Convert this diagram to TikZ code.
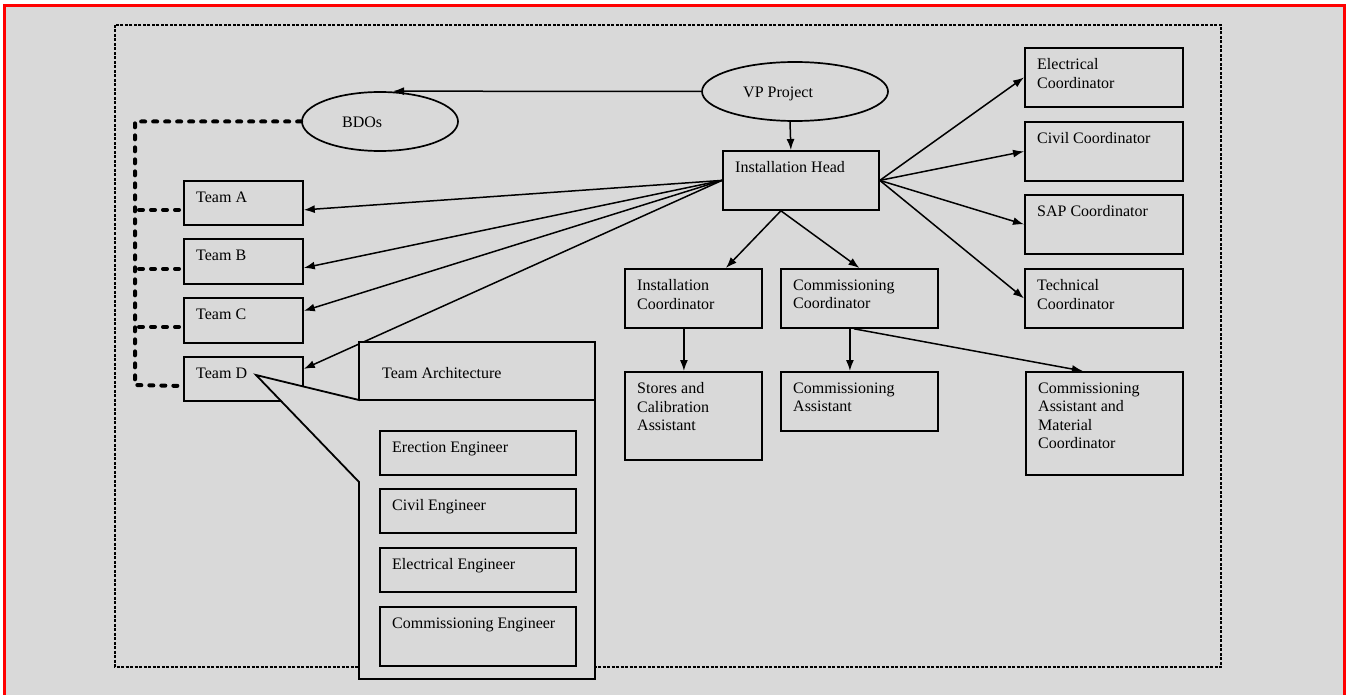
\documentclass[tikz,border=0pt]{standalone}
\usepackage{fontspec}
\setmainfont{Liberation Serif}
\usetikzlibrary{shapes.geometric,arrows.meta,calc}
\definecolor{bg}{HTML}{D9D9D9}
\definecolor{frame}{HTML}{FF0000}
\begin{document}
\begin{tikzpicture}[x=1pt,y=-1pt,
  box/.style={draw=black, line width=1.8pt, fill=bg, rectangle, inner sep=0pt, anchor=north west},
  oval/.style={draw=black, line width=1.7pt, fill=bg, ellipse, inner sep=0pt},
  txt/.style={anchor=north west, inner sep=0pt, align=left, font=\fontsize{16}{18.5}\selectfont},
  arr/.style={line width=1.5pt, -{Latex[length=11pt,width=8pt]}},
  link/.style={line width=4pt, dash pattern=on 4pt off 8pt, line cap=round},
]
\useasboundingbox (0,0) rectangle (1352,695);
\fill[white] (0,0) rectangle (1352,695);
\draw[frame, line width=3pt, fill=bg] (4,6) rectangle (1344,700);
\draw[line width=1.1pt, dash pattern=on 3pt off 1.5pt] (115,25) rectangle (1221,667);

% ellipses
\node[oval, minimum width=186pt, minimum height=59pt] (vp) at (795,91.5) {};
\node[txt] (vpt) at (743,87) {VP Project};
\node[oval, minimum width=156pt, minimum height=59pt] (bdo) at (380,121.5) {};
\node[txt] (bdot) at (342,117) {BDOs};

% head
\node[box, minimum width=156pt, minimum height=59pt] (ih) at (722,150) {};
\node[txt] (iht) at (735,161.5) {Installation Head};

% teams
\node[box, minimum width=119pt, minimum height=44pt] (tA) at (183,180) {};
\node[txt] (tAt) at (196,191.5) {Team A};
\node[box, minimum width=119pt, minimum height=45pt] (tB) at (183,238) {};
\node[txt] (tBt) at (196,249.5) {Team B};
\node[box, minimum width=119pt, minimum height=45pt] (tC) at (183,297) {};
\node[txt] (tCt) at (196,308.5) {Team C};
\node[box, minimum width=119pt, minimum height=44pt] (tD) at (183,356) {};
\node[txt] (tDt) at (196,367.5) {Team D};

% right coordinators
\node[box, minimum width=158pt, minimum height=59pt] (ec) at (1024,47) {};
\node[txt] (ect) at (1037,58.5) {Electrical\\Coordinator};
\node[box, minimum width=158pt, minimum height=59pt] (cc) at (1024,121) {};
\node[txt] (cct) at (1037,132.5) {Civil Coordinator};
\node[box, minimum width=158pt, minimum height=59pt] (sc) at (1024,194) {};
\node[txt] (sct) at (1037,205.5) {SAP Coordinator};
\node[box, minimum width=158pt, minimum height=59pt] (tc) at (1024,268) {};
\node[txt] (tct) at (1037,279.5) {Technical\\Coordinator};

% middle
\node[box, minimum width=137pt, minimum height=59pt] (ic) at (624,268) {};
\node[txt] (ict) at (637,279.5) {Installation\\Coordinator};
\node[box, minimum width=157pt, minimum height=59pt] (cmc) at (780,268) {};
\node[txt] (cmct) at (793,279.5) {Commissioning\\Coordinator};
\node[box, minimum width=137pt, minimum height=88pt] (sca) at (624,371) {};
\node[txt] (scat) at (637,382.5) {Stores and\\Calibration\\Assistant};
\node[box, minimum width=157pt, minimum height=59pt] (ca) at (780,371) {};
\node[txt] (cat) at (793,382.5) {Commissioning\\Assistant};
\node[box, minimum width=157pt, minimum height=103pt] (camc) at (1025,371) {};
\node[txt] (camct) at (1038,382.5) {Commissioning\\Assistant and\\Material\\Coordinator};

% connectors
\draw[arr] (vp.west) -- ([xshift=13pt]bdo.north);
\draw[arr] ([xshift=-5pt]vp.south) -- ([xshift=-10pt]ih.north);
\draw[arr] (ih.west) -- ([yshift=-7pt]tA.east);
\draw[arr] (ih.west) -- ([yshift=-6.5pt]tB.east);
\draw[arr] (ih.west) -- ([yshift=9.5pt]tC.east);
\draw[arr] (ih.west) -- ([yshift=10pt]tD.east);
\draw[arr] (ih.east) -- (ec.west);
\draw[arr] (ih.east) -- (cc.west);
\draw[arr] (ih.east) -- (sc.west);
\draw[arr] (ih.east) -- (tc.west);
\coordinate (ihb) at ([xshift=-20pt]ih.south);
\draw[arr] (ihb) -- ([xshift=32.5pt]ic.north);
\draw[arr] (ihb) -- (cmc.north);
\draw[arr] ([xshift=-9.5pt]ic.south) -- ([xshift=-9.5pt]sca.north);
\draw[arr] ([xshift=-9.5pt]cmc.south) -- ([xshift=-9.5pt]ca.north);
\draw[arr] ([xshift=-5.5pt]cmc.south) -- ([xshift=-21.5pt]camc.north);

% dashed links
\coordinate (lkb) at (135,385);
\coordinate (bA) at ([shift={(-4pt,-7pt)}]tA.west);
\coordinate (bB) at ([shift={(-4pt,-7.5pt)}]tB.west);
\coordinate (bC) at ([shift={(-4pt,-6.5pt)}]tC.west);
\coordinate (bD) at ([shift={(-4pt,-7pt)}]tD.west);
\draw[link] (bdo.west) -| (lkb) -- (bD);
\draw[link] (bA) -- (bA -| lkb);
\draw[link] (bB) -- (bB -| lkb);
\draw[link] (bC) -- (bC -| lkb);

% callout
\coordinate (tip) at (256,375);
\draw[line width=1.8pt, fill=bg, line join=miter] (359,342) -- (595,342) -- (595,679) -- (359,679) -- (359,482) -- (tip) -- (359,400) -- cycle;
\draw[line width=1.8pt] (359,400) -- (595,400);
\node[txt] (tat) at (382,367) {Team Architecture};
\node[box, minimum width=196pt, minimum height=44pt] (ee) at (379,430) {};
\node[txt] (eet) at (392,441.5) {Erection Engineer};
\node[box, minimum width=196pt, minimum height=44pt] (ce) at (379,488) {};
\node[txt] (cet) at (392,499.5) {Civil Engineer};
\node[box, minimum width=196pt, minimum height=44pt] (ele) at (379,547) {};
\node[txt] (elet) at (392,558.5) {Electrical Engineer};
\node[box, minimum width=196pt, minimum height=59pt] (coe) at (379,606) {};
\node[txt] (coet) at (392,617.5) {Commissioning Engineer};
\end{tikzpicture}
\end{document}
